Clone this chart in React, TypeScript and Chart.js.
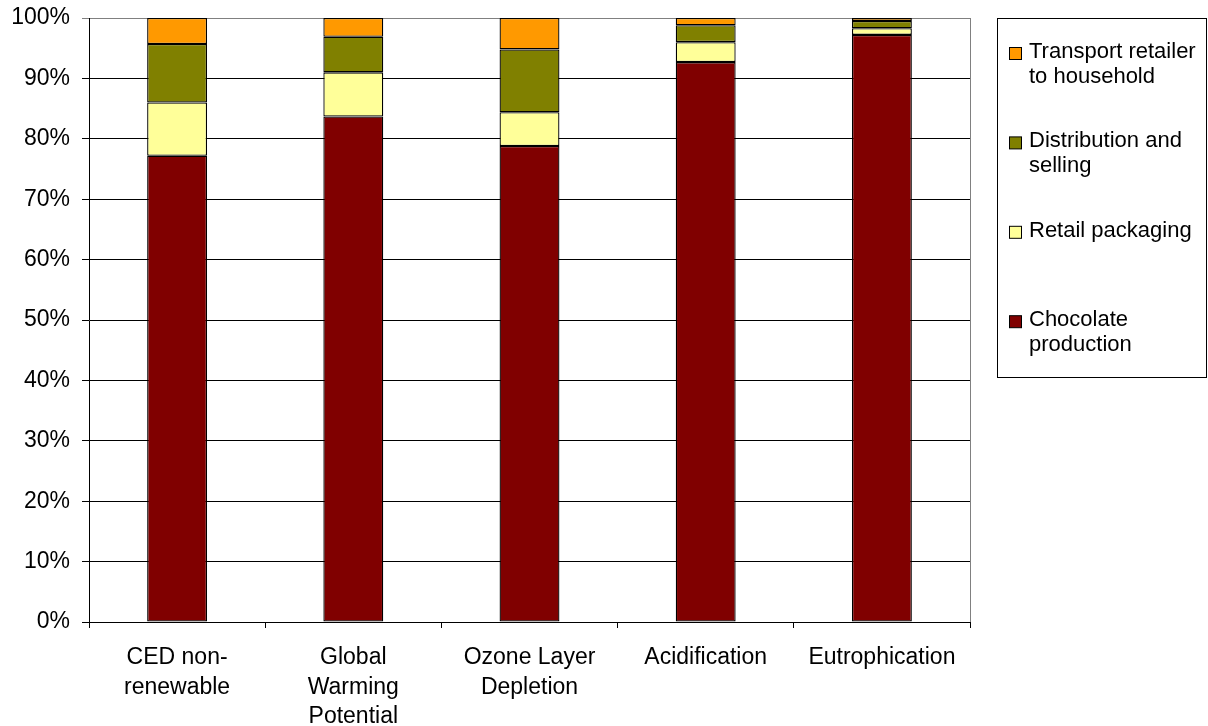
import React, { useEffect, useRef } from "react";
import { Chart, registerables } from "chart.js";

Chart.register(...registerables);

const categories: string[][] = [
  ["CED non-", "renewable"],
  ["Global", "Warming", "Potential"],
  ["Ozone Layer", "Depletion"],
  ["Acidification"],
  ["Eutrophication"],
];

const chocolateProduction = [77.2, 83.7, 78.8, 92.7, 97.2];
const retailPackaging = [8.8, 7.3, 5.6, 3.3, 1.1];
const distributionSelling = [9.7, 5.9, 10.4, 2.8, 1.2];
const transportRetailer = [4.3, 3.1, 5.2, 1.2, 0.5];

const seriesNames = [
  "Chocolate production",
  "Retail packaging",
  "Distribution and selling",
  "Transport retailer to household",
];
const legendLines: string[][] = [
  ["Chocolate", "production"],
  ["Retail packaging"],
  ["Distribution and", "selling"],
  ["Transport retailer", "to household"],
];
const seriesColors = ["#800000", "#FFFF99", "#808000", "#FF9900"];

const yTicks = [0, 10, 20, 30, 40, 50, 60, 70, 80, 90, 100];

const FONT = "'Liberation Sans', Arial, sans-serif";

const legendPlugin = {
  id: "boxLegend",
  afterDraw(chart: any) {
    const ctx = chart.ctx;
    const area = chart.chartArea;
    ctx.save();
    ctx.strokeStyle = "#808080";
    ctx.lineWidth = 1;
    ctx.beginPath();
    ctx.moveTo(Math.round(area.right) + 0.5, area.top);
    ctx.lineTo(Math.round(area.right) + 0.5, area.bottom);
    ctx.stroke();

    const bx = 997.5, by = 18.5, bw = 209, bh = 359;
    ctx.strokeStyle = "#000";
    ctx.strokeRect(bx, by, bw, bh);
    const ds = chart.data.datasets;
    const n = ds.length;
    const firstY = 52;
    const step = 89.4;
    ctx.font = `22px ${FONT}`;
    ctx.textBaseline = "middle";
    ctx.textAlign = "left";
    for (let k = 0; k < n; k++) {
      const i = n - 1 - k;
      const y = firstY + k * step;
      ctx.fillStyle = ds[i].backgroundColor;
      ctx.fillRect(1009.5, y - 4.5, 12, 12);
      ctx.strokeStyle = "#000";
      ctx.strokeRect(1009.5, y - 4.5, 12, 12);
      ctx.fillStyle = "#000";
      const lines: string[] = ds[i].legendLines;
      lines.forEach((t, j) => ctx.fillText(t, 1029, y + j * 24.5));
    }
    ctx.restore();
  },
};

export default function App() {
  const ref = useRef<HTMLCanvasElement | null>(null);
  useEffect(() => {
    if (!ref.current) return;
    const seriesValues = [chocolateProduction, retailPackaging, distributionSelling, transportRetailer];
    const chart = new Chart(ref.current, {
      type: "bar",
      data: {
        labels: categories as any,
        datasets: seriesValues.map((vals, i) => ({
          label: seriesNames[i],
          legendLines: legendLines[i],
          data: vals,
          backgroundColor: seriesColors[i],
          borderColor: "#000",
          borderWidth: 1.3,
          borderSkipped: false,
          barPercentage: 0.34,
          categoryPercentage: 1,
        })) as any,
      },
      options: {
        animation: false,
        responsive: true,
        maintainAspectRatio: false,
        layout: { padding: { top: 18, right: 238, left: 0, bottom: 0 } },
        plugins: { legend: { display: false }, tooltip: { enabled: false } },
        scales: {
          x: {
            stacked: true,
            afterFit: (s: any) => { s.height = 104; s.paddingLeft = 0; s.paddingRight = 0; },
            grid: { offset: true, drawOnChartArea: false, drawTicks: true, tickLength: 6, color: "#000" },
            border: { display: true, color: "#000" },
            ticks: {
              color: "#000",
              font: { family: FONT, size: 23, lineHeight: 1.28 },
              padding: 15,
              maxRotation: 0,
              autoSkip: false,
            },
          },
          y: {
            stacked: true,
            min: 0,
            max: 100,
            afterFit: (s: any) => { s.width = 89; s.paddingTop = 0; s.paddingBottom = 0; },
            afterBuildTicks: (s: any) => { s.ticks = yTicks.map((v) => ({ value: v })); },
            grid: {
              color: (c: any) => (c.tick && c.tick.value === 100 ? "#808080" : "#000"),
              drawTicks: true,
              tickLength: 7,
            },
            border: { display: true, color: "#000" },
            ticks: {
              color: "#000",
              font: { family: FONT, size: 23 },
              padding: 12,
              callback: (v: any) => `${v}%`,
            },
          },
        },
      },
      plugins: [legendPlugin],
    });
    return () => chart.destroy();
  }, []);
  return (
    <div style={{ position: "fixed", left: 0, top: 0, width: 1208, height: 726, background: "#fff" }}>
      <canvas ref={ref} />
    </div>
  );
}
